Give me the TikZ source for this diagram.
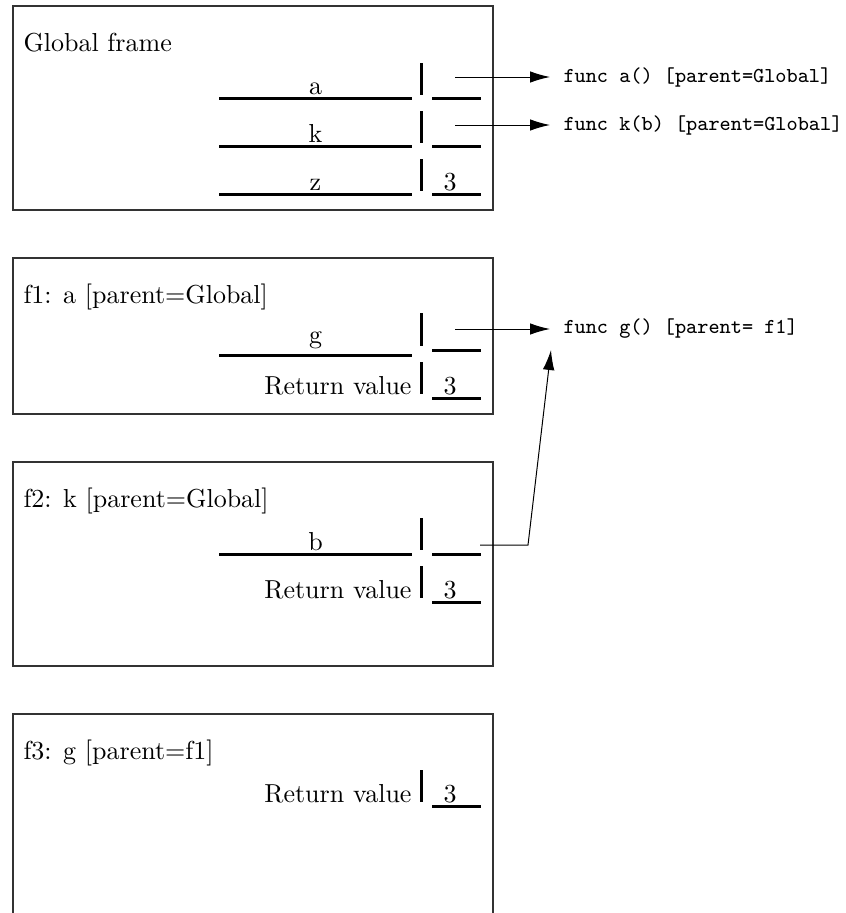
\documentclass[tikz,border=0pt]{standalone}
\usetikzlibrary{arrows.meta,calc}
\begin{document}
\begin{tikzpicture}[x=0.4pt,y=-0.4pt,
  font=\fontsize{10.4}{12.5}\selectfont,
  frame/.style={draw=black!80, line width=0.7pt, anchor=north west, inner sep=0pt, minimum width=192pt},
  title/.style={anchor=base west, inner sep=0pt},
  lbl/.style={anchor=base, inner sep=0pt},
  rlbl/.style={anchor=base east, inner sep=0pt},
  fn/.style={anchor=west, inner xsep=5.2pt, inner ysep=0pt, font=\fontsize{8.5}{10}\selectfont\ttfamily},
  uline/.style={line width=1.2pt},
  vbar/.style={line width=1.4pt},
  arr/.style={-{Latex[length=8pt,width=4.6pt]}, line width=0.4pt}]
\useasboundingbox (0,0) rectangle (846,913);
\clip (0,0) rectangle (846,913);

% frames
\node[frame, minimum height=81.6pt] (gf) at (12,5) {};
\node[frame, minimum height=62.4pt] (f1) at (12,257) {};
\node[frame, minimum height=81.6pt] (f2) at (12,461) {};
\node[frame, minimum height=90pt] (f3) at (12,713) {};

% titles
\node[title] (tg) at (23,51) {Global frame};
\node[title] (t1) at (23,303) {f1: a [parent=Global]};
\node[title] (t2) at (23,507) {f2: k [parent=Global]};
\node[title] (t3) at (23,759) {f3: g [parent=f1]};

% Global: a
\draw[uline] (219,98) -- (412,98);
\node[lbl] (na) at (315.5,94.5) {a};
\draw[vbar] (421.7,63) -- (421.7,95);
\draw[uline] (432,98) -- (481,98);
\coordinate (va) at (455,77);
\node[fn] (fa) at (550,77) {func a() [parent=Global]};
\draw[arr] (va) -- (fa);

% Global: k
\draw[uline] (219,146) -- (412,146);
\node[lbl] (nk) at (315.5,142.5) {k};
\draw[vbar] (421.7,111) -- (421.7,143);
\draw[uline] (432,146) -- (481,146);
\coordinate (vk) at (455,125);
\node[fn] (fk) at (550,125) {func k(b) [parent=Global]};
\draw[arr] (vk) -- (fk);

% Global: z
\draw[uline] (219,194) -- (412,194);
\node[lbl] (nz) at (315.5,190.5) {z};
\draw[vbar] (421.7,159) -- (421.7,191);
\draw[uline] (432,194) -- (481,194);
\node[lbl] (vz) at (450,190.5) {3};

% f1: g
\draw[uline] (219,355) -- (412,355);
\node[lbl] (ng) at (315.5,343) {g};
\draw[vbar] (421.7,313) -- (421.7,346);
\draw[uline] (432,350) -- (481,350);
\coordinate (vg) at (455,329);
\node[fn] (fg) at (550,329) {func g() [parent= f1]};
\draw[arr] (vg) -- (fg);

% f1: return
\node[rlbl] (r1) at (412,394) {Return value};
\draw[vbar] (421.7,362) -- (421.7,394);
\draw[uline] (432,398) -- (481,398);
\node[lbl] (v1) at (450,394) {3};

% f2: b
\draw[uline] (219,554) -- (412,554);
\node[lbl] (nb) at (315.5,550) {b};
\draw[vbar] (421.7,518) -- (421.7,550);
\draw[uline] (432,554) -- (481,554);
\coordinate (vb) at (480,545);
\coordinate (bend) at (528,545);
\draw[arr] (vb) -- (bend) -- ($(fg.west)+(1,21)$);

% f2: return
\node[rlbl] (r2) at (412,598) {Return value};
\draw[vbar] (421.7,566) -- (421.7,598);
\draw[uline] (432,602) -- (481,602);
\node[lbl] (v2) at (450,598) {3};

% f3: return
\node[rlbl] (r3) at (412,802) {Return value};
\draw[vbar] (421.7,770) -- (421.7,802);
\draw[uline] (432,806) -- (481,806);
\node[lbl] (v3) at (450,802) {3};
\end{tikzpicture}
\end{document}
